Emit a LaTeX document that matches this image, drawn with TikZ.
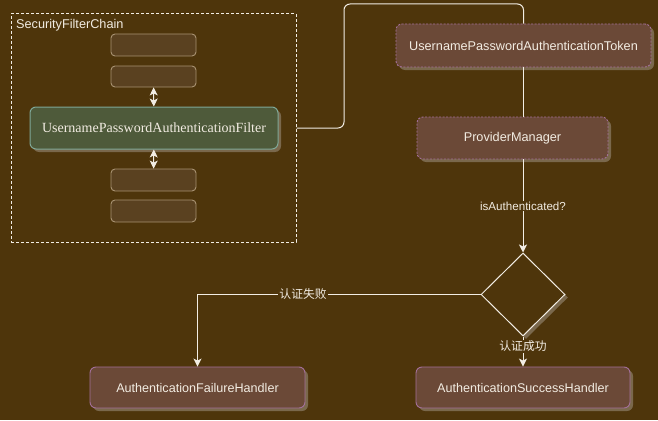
\documentclass[tikz,border=0pt]{standalone}
\usepackage{fontspec}
\setmainfont{Liberation Sans}
\newfontfamily\seriffont{Liberation Serif}
\newfontfamily\cjk{Noto Sans CJK SC}
\usetikzlibrary{shapes.geometric,shadows,arrows.meta}
\definecolor{bgc}{HTML}{4E350B}
\definecolor{linec}{HTML}{F2EDE4}
\definecolor{txtc}{HTML}{F2ECE2}
\definecolor{smallfill}{HTML}{5A4120}
\definecolor{smallborder}{HTML}{A89272}
\definecolor{greenfill}{HTML}{4E5A3A}
\definecolor{greenborder}{HTML}{7FA898}
\definecolor{brownfill}{HTML}{6B4937}
\definecolor{brownborder}{HTML}{A3709A}
\definecolor{shadowc}{HTML}{7A684C}
\tikzset{
  myshadow/.style={drop shadow={shadow xshift=3pt,shadow yshift=-3pt,fill=shadowc,opacity=1}},
  smallbox/.style={draw=smallborder,fill=smallfill,line width=0.9pt,rounded corners=4pt,minimum width=85pt,inner sep=0pt},
  filterbox/.style={draw=greenborder,fill=greenfill,line width=1pt,rounded corners=6pt,myshadow,minimum width=248pt,minimum height=42pt,inner sep=0pt,text=txtc,font=\seriffont\fontsize{14}{16}\selectfont},
  dashbox/.style={draw=brownborder,fill=brownfill,line width=0.9pt,dash pattern=on 2pt off 1.5pt,rounded corners=6pt,myshadow,minimum height=42pt,inner sep=0pt,text=txtc,font=\fontsize{12.7}{15}\selectfont},
  solidbox/.style={draw=brownborder,fill=brownfill,line width=0.9pt,rounded corners=6pt,myshadow,minimum height=41pt,inner sep=0pt,text=txtc,font=\fontsize{12.6}{15}\selectfont},
  decision/.style={diamond,draw=linec,fill=bgc,line width=1pt,myshadow,minimum width=84pt,minimum height=83pt,inner sep=0pt},
  conn/.style={draw=linec,line width=1pt},
  arr/.style={conn,-{Stealth[length=8pt,width=8pt,inset=2pt]}},
  darr/.style={conn,{Stealth[length=8pt,width=8pt,inset=2pt]}-{Stealth[length=8pt,width=8pt,inset=2pt]}},
  lbl/.style={fill=bgc,text=txtc,inner sep=1pt,font=\fontsize{11.6}{13}\selectfont},
  cjklbl/.style={fill=bgc,text=txtc,inner sep=1pt,font=\cjk\fontsize{11.8}{13}\selectfont},
}
\begin{document}
\begin{tikzpicture}[x=1pt,y=-1pt]
\fill[bgc] (0,0) rectangle (658,420);
\useasboundingbox (0,0) rectangle (658,420);
% container
\node[draw=linec,dashed,dash pattern=on 3pt off 2pt,line width=1pt,minimum width=285pt,minimum height=228pt,inner sep=0pt] (chain) at (153.5,128) {};
\node[anchor=west,text=txtc,inner sep=0pt,font=\fontsize{12.7}{14}\selectfont] (chainlbl) at (16,25) {SecurityFilterChain};
% small boxes
\node[smallbox,minimum height=22pt] (b1) at (153.5,45) {};
\node[smallbox,minimum height=21pt] (b2) at (153.5,76.5) {};
\node[smallbox,minimum height=22pt] (b3) at (153.5,180) {};
\node[smallbox,minimum height=22pt] (b4) at (153.5,211) {};
\node[filterbox] (filter) at (154,128) {UsernamePasswordAuthenticationFilter};
\draw[darr] (b2) -- (filter);
\draw[darr] (filter) -- (b3);
% right side
\node[dashbox,minimum width=255pt,minimum height=43pt] (token) at (523.5,45.5) {UsernamePasswordAuthenticationToken};
\node[dashbox,minimum width=191pt] (pm) at (512.5,138) {ProviderManager};
\node[decision] (dec) at (523,294.5) {};
\node[solidbox,minimum width=215pt] (fail) at (197.5,387.5) {AuthenticationFailureHandler};
\node[solidbox,minimum width=214pt] (succ) at (523,387.5) {AuthenticationSuccessHandler};
\coordinate (t1) at (344,4);
\draw[conn,rounded corners=6pt] (chain.east) -| (t1) -| (token.north);
\draw[conn] (token.south -| dec.north) -- (pm.north -| dec.north);
\draw[arr] (pm.south -| dec.north) -- node[lbl] (q) {isAuthenticated?} (dec.north);
\draw[arr] (dec.west) -- node[cjklbl,pos=0.627] (f) {认证失败} (dec.west -| fail.north) -- (fail.north);
\draw[arr] (dec.south) -- node[cjklbl,pos=0.33] (s) {认证成功} (succ.north);
\end{tikzpicture}
\end{document}
